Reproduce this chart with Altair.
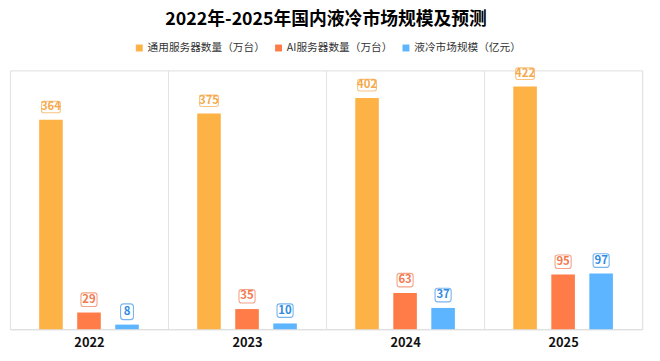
import altair as alt
import pandas as pd

years = ["2022", "2023", "2024", "2025"]
series = ["通用服务器数量（万台）", "AI服务器数量（万台）", "液冷市场规模（亿元）"]
general = [364, 375, 402, 422]
ai = [29, 35, 63, 95]
liquid = [8, 10, 37, 97]

bar_colors = ["#FDB246", "#FF7B47", "#5DB5FF"]
text_colors = ["#F5A94B", "#F27A50", "#2F8AE0"]
box_colors = ["#F7C483", "#F4A386", "#78B4EE"]

FONT = "Noto Sans CJK SC"

rows = []
for i, y in enumerate(years):
    for s, vals in zip(series, [general, ai, liquid]):
        rows.append({"year": y, "series": s, "value": vals[i]})
df = pd.DataFrame(rows)


def rrect(w, h, r):
    s = 2.0 / w
    a = 1.0
    b = h * s / 2
    rr = r * s
    f = lambda v: f"{v:.4f}"
    return (
        f"M{f(-a + rr)},{f(-b)} L{f(a - rr)},{f(-b)} Q{f(a)},{f(-b)} {f(a)},{f(-b + rr)} "
        f"L{f(a)},{f(b - rr)} Q{f(a)},{f(b)} {f(a - rr)},{f(b)} "
        f"L{f(-a + rr)},{f(b)} Q{f(-a)},{f(b)} {f(-a)},{f(b - rr)} "
        f"L{f(-a)},{f(-b + rr)} Q{f(-a)},{f(-b)} {f(-a + rr)},{f(-b)} Z"
    )


box_w = [13, 19, 26]
box_h = 16
paths = [rrect(w, box_h, 3) for w in box_w]
sizes = [w * w for w in box_w]

base = alt.Chart(df).encode(
    x=alt.X(
        "year:N",
        sort=years,
        scale=alt.Scale(paddingInner=0, paddingOuter=0),
        axis=alt.Axis(
            title=None,
            labelAngle=0,
            ticks=False,
            tickSize=0,
            labelPadding=8,
            labelFont=FONT,
            labelFontSize=13,
            labelFontWeight="bold",
            labelColor="#111111",
            grid=True,
            gridColor="#E3E3E3",
            gridWidth=1,
            tickBand="extent",
            domainColor="#DDDDDD",
            domainWidth=1,
        ),
    ),
    xOffset=alt.XOffset(
        "series:N", sort=series, scale=alt.Scale(paddingInner=0.38, paddingOuter=0.768)
    ),
    y=alt.Y("value:Q", scale=alt.Scale(domain=[0, 450], nice=False), axis=None),
)

bars = base.mark_bar().encode(
    color=alt.Color(
        "series:N",
        sort=series,
        scale=alt.Scale(domain=series, range=bar_colors),
        legend=alt.Legend(
            title=None,
            orient="none",
            legendX=125.5,
            legendY=-28.5,
            direction="horizontal",
            symbolType="square",
            symbolSize=49,
            symbolStrokeWidth=0,
            labelFont=FONT,
            labelFontSize=10.8,
            labelColor="#333333",
            labelOffset=3,
            columnPadding=8,
        ),
    )
)

boxes = (
    base.transform_calculate(digits="toString(length(toString(datum.value)))")
    .mark_point(
        filled=False,
        fill="white",
        strokeWidth=1.1,
        opacity=1,
        fillOpacity=1,
        strokeOpacity=1,
        yOffset=-13,
    )
    .encode(
        stroke=alt.Stroke(
            "series:N", scale=alt.Scale(domain=series, range=box_colors), legend=None
        ),
        shape=alt.Shape(
            "digits:O", scale=alt.Scale(domain=["1", "2", "3"], range=paths), legend=None
        ),
        size=alt.Size(
            "digits:O", scale=alt.Scale(domain=["1", "2", "3"], range=sizes), legend=None
        ),
    )
)

texts = base.mark_text(
    font=FONT, fontSize=11.5, fontWeight="bold", baseline="middle", yOffset=-13
).encode(
    text="value:Q",
    fill=alt.Fill(
        "series:N", scale=alt.Scale(domain=series, range=text_colors), legend=None
    ),
)

chart = (
    alt.layer(bars, boxes, texts)
    .properties(
        width=640,
        height=262,
        autosize=alt.AutoSizeParams(type="none"),
        padding={"left": 2, "top": 61, "right": 10, "bottom": 30},
        title=alt.TitleParams(
            "2022年-2025年国内液冷市场规模及预测",
            font=FONT,
            fontSize=18,
            fontWeight="bold",
            color="#000000",
            anchor="middle",
            offset=13,
        ),
    )
    .configure_view(stroke=None)
    .configure(font=FONT)
)

chart.save("out.html", embed_options={"renderer": "svg", "actions": False})
